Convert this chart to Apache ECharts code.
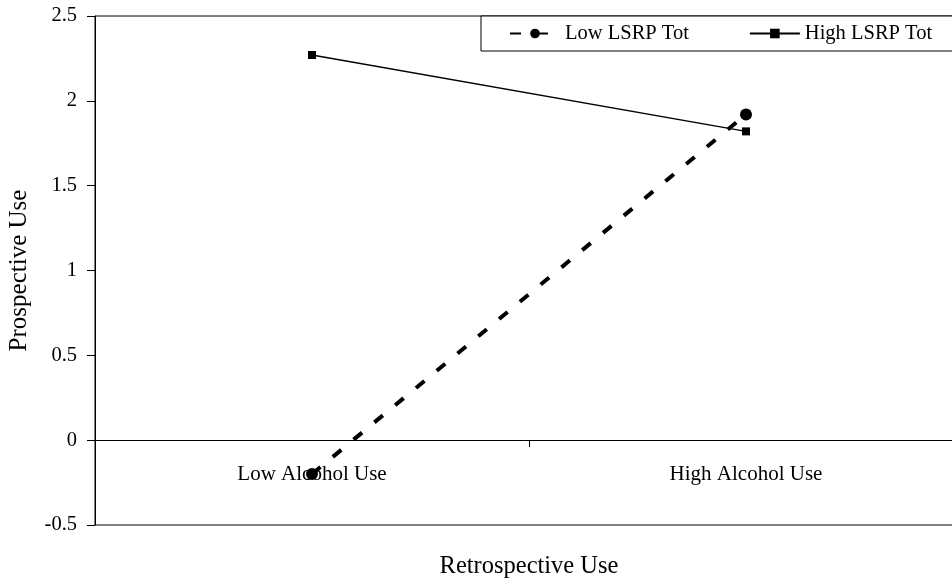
<!DOCTYPE html>
<html>
<head>
<meta charset="utf-8">
<script src="https://cdn.jsdelivr.net/npm/echarts@6/dist/echarts.min.js"></script>
<style>
  html, body { margin: 0; padding: 0; background: #fff; }
  #chart { width: 952px; height: 582px; }
</style>
</head>
<body>
<div id="chart"></div>
<script>
// Retrospective vs prospective alcohol use, split by LSRP total score
const categories = ['Low Alcohol Use', 'High Alcohol Use'];
const lowLsrp = [-0.2, 1.92];
const highLsrp = [2.27, 1.82];
const seriesNames = ['Low LSRP Tot', 'High LSRP Tot'];
const yTicks = { min: -0.5, max: 2.5, step: 0.5 };

const FONT = "'Liberation Serif', 'Times New Roman', serif";

const chart = echarts.init(document.getElementById('chart'), null, { renderer: 'canvas' });

chart.setOption({
  animation: false,
  backgroundColor: '#fff',
  textStyle: { fontFamily: FONT, color: '#000' },
  grid: {
    left: 95, top: 16, width: 868, height: 509,
    containLabel: false,
    outerBoundsMode: 'none',
    show: true, borderColor: '#000', borderWidth: 1, backgroundColor: 'transparent'
  },
  legend: {
    data: seriesNames,
    left: 481, top: 16,
    width: 520,
    orient: 'horizontal',
    itemWidth: 50, itemHeight: 12, itemGap: 60,
    padding: [7, 30, 7, 28],
    borderColor: '#000', borderWidth: 1,
    backgroundColor: '#fff',
    textStyle: { fontFamily: FONT, fontSize: 20.5, color: '#000' }
  },
  xAxis: {
    type: 'category',
    data: categories,
    boundaryGap: true,
    name: 'Retrospective Use',
    nameLocation: 'middle',
    nameGap: 29,
    nameTextStyle: { fontFamily: FONT, fontSize: 24.5, color: '#000' },
    axisLine: { onZero: true, lineStyle: { color: '#000', width: 1 } },
    axisTick: { show: true, length: 7, lineStyle: { color: '#000' } },
    // labels sit just under the zero line, above the plot's bottom edge
    axisLabel: { fontFamily: FONT, fontSize: 21, color: '#000', margin: -61 },
    splitLine: { show: false }
  },
  yAxis: {
    type: 'value',
    min: yTicks.min, max: yTicks.max, interval: yTicks.step,
    name: 'Prospective Use',
    nameLocation: 'middle',
    nameGap: 63,
    nameTextStyle: { fontFamily: FONT, fontSize: 25, color: '#000' },
    axisLine: { show: true, lineStyle: { color: '#000', width: 1 } },
    axisTick: { show: true, length: 8, lineStyle: { color: '#000' } },
    axisLabel: { fontFamily: FONT, fontSize: 20.5, color: '#000', margin: 18 },
    splitLine: { show: false }
  },
  series: [
    {
      name: seriesNames[0],
      type: 'line',
      data: lowLsrp,
      symbol: 'circle',
      symbolSize: 12,
      itemStyle: { color: '#000' },
      lineStyle: { color: '#000', width: 4, type: [11, 16] },
      z: 3
    },
    {
      name: seriesNames[1],
      type: 'line',
      data: highLsrp,
      symbol: 'rect',
      symbolSize: 8,
      itemStyle: { color: '#000' },
      lineStyle: { color: '#000', width: 1.5, type: 'solid' },
      z: 2
    }
  ]
});
</script>
</body>
</html>
